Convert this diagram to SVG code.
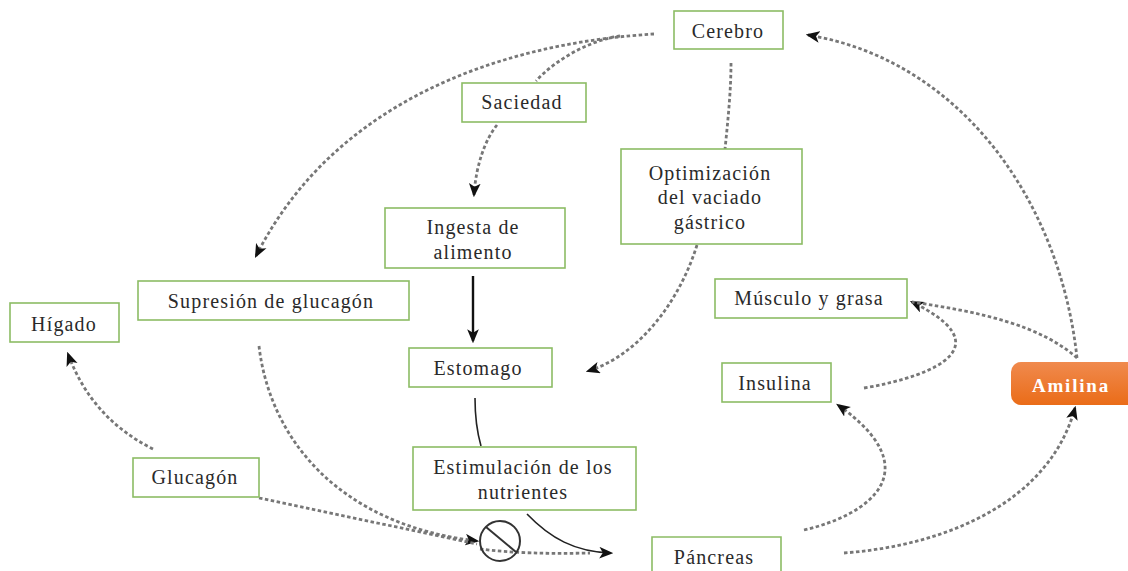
<svg xmlns="http://www.w3.org/2000/svg" width="1128" height="571" viewBox="0 0 1128 571">
<style>
.box{fill:#fff;stroke:#8cbc64;stroke-width:1.6}
.t{font-family:"Liberation Serif",serif;font-size:20px;fill:#2a2a2a;text-anchor:middle;letter-spacing:1.15px}
.d{fill:none;stroke:#777;stroke-width:2.8;stroke-dasharray:3.5 2.5}
.s{fill:none;stroke:#222;stroke-width:1.6}
.h{fill:#111}
</style>
<defs>
<linearGradient id="or" x1="0" y1="0" x2="0" y2="1"><stop offset="0" stop-color="#f08a4e"/><stop offset="1" stop-color="#ea6c18"/></linearGradient>
<marker id="a" viewBox="0 0 12 10" refX="10" refY="5" markerWidth="14" markerHeight="12" markerUnits="userSpaceOnUse" orient="auto"><path class="h" d="M0 0L12 5L0 10L3 5Z"/></marker>
</defs>
<rect width="1128" height="571" fill="#fff"/>
<g id="connectors">
<path class="d" d="M654 34C520 42 340 90 256 256" marker-end="url(#a)"/>
<path class="d" d="M620 36C590 40 555 60 536 81"/>
<path class="d" d="M497 125C485 140 476 165 474 195" marker-end="url(#a)"/>
<path class="d" d="M731 63C731 90 728 120 725 149"/>
<path class="d" d="M697 245C680 300 640 355 588 371" marker-end="url(#a)"/>
<path d="M473 276V341" fill="none" stroke="#111" stroke-width="2.4" marker-end="url(#a)"/>
<path class="s" d="M475 398C475 415 477 432 481 446"/>
<path class="s" d="M527 514C550 538 575 552 611 553" marker-end="url(#a)"/>
<path class="d" d="M259 346C270 440 340 525 477 541" marker-end="url(#a)"/>
<path class="d" d="M259 498L477 544"/>
<path class="d" d="M480 549C510 553 550 554 590 553"/>
<path class="d" d="M153 449C115 430 85 400 68 354" marker-end="url(#a)"/>
<path class="d" d="M804 530C870 515 930 470 838 405" marker-end="url(#a)"/>
<path class="d" d="M864 388C940 375 1000 345 912 302" marker-end="url(#a)"/>
<path class="d" d="M1077 358C1040 325 980 312 912 302"/>
<path class="d" d="M1077 358C1060 200 960 60 808 35" marker-end="url(#a)"/>
<path class="d" d="M844 553C950 545 1050 500 1075 408" marker-end="url(#a)"/>
</g>
<g id="no-symbol" fill="none" stroke="#333" stroke-width="2"><circle cx="500" cy="541" r="20"/><path d="M486 527L516 552"/></g>
<g id="cerebro"><rect class="box" x="674" y="11" width="109" height="38"/><text class="t" x="728" y="38">Cerebro</text></g>
<g id="saciedad"><rect class="box" x="462" y="83" width="124" height="39"/><text class="t" x="522" y="109">Saciedad</text></g>
<g id="optimizacion"><rect class="box" x="621" y="149" width="181" height="95"/><text class="t" x="710" y="180">Optimización</text><text class="t" x="710" y="204">del vaciado</text><text class="t" x="710" y="229">gástrico</text></g>
<g id="ingesta"><rect class="box" x="385" y="208" width="180" height="60"/><text class="t" x="473" y="234">Ingesta de</text><text class="t" x="473" y="259">alimento</text></g>
<g id="supresion"><rect class="box" x="138" y="281" width="271" height="39"/><text class="t" x="271" y="308">Supresión de glucagón</text></g>
<g id="higado"><rect class="box" x="10" y="303" width="109" height="39"/><text class="t" x="64" y="331">Hígado</text></g>
<g id="musculo"><rect class="box" x="715" y="279" width="192" height="39"/><text class="t" x="809" y="305">Músculo y grasa</text></g>
<g id="estomago"><rect class="box" x="409" y="348" width="143" height="39"/><text class="t" x="478" y="375">Estomago</text></g>
<g id="insulina"><rect class="box" x="722" y="363" width="109" height="39"/><text class="t" x="775" y="390">Insulina</text></g>
<g id="amilina"><path d="M1128 362H1021a10 10 0 0 0-10 10v23a10 10 0 0 0 10 10H1128Z" fill="url(#or)"/><text x="1071" y="392" font-family="Liberation Serif,serif" font-size="19" font-weight="bold" fill="#fff" text-anchor="middle" letter-spacing="1.8">Amilina</text></g>
<g id="estimulacion"><rect class="box" x="413" y="447" width="223" height="63"/><text class="t" x="523" y="474">Estimulación de los</text><text class="t" x="523" y="499">nutrientes</text></g>
<g id="glucagon"><rect class="box" x="133" y="458" width="126" height="39"/><text class="t" x="195" y="484">Glucagón</text></g>
<g id="pancreas"><path class="box" d="M652 571V537H781V571"/><text class="t" x="714" y="564">Páncreas</text></g>
</svg>
